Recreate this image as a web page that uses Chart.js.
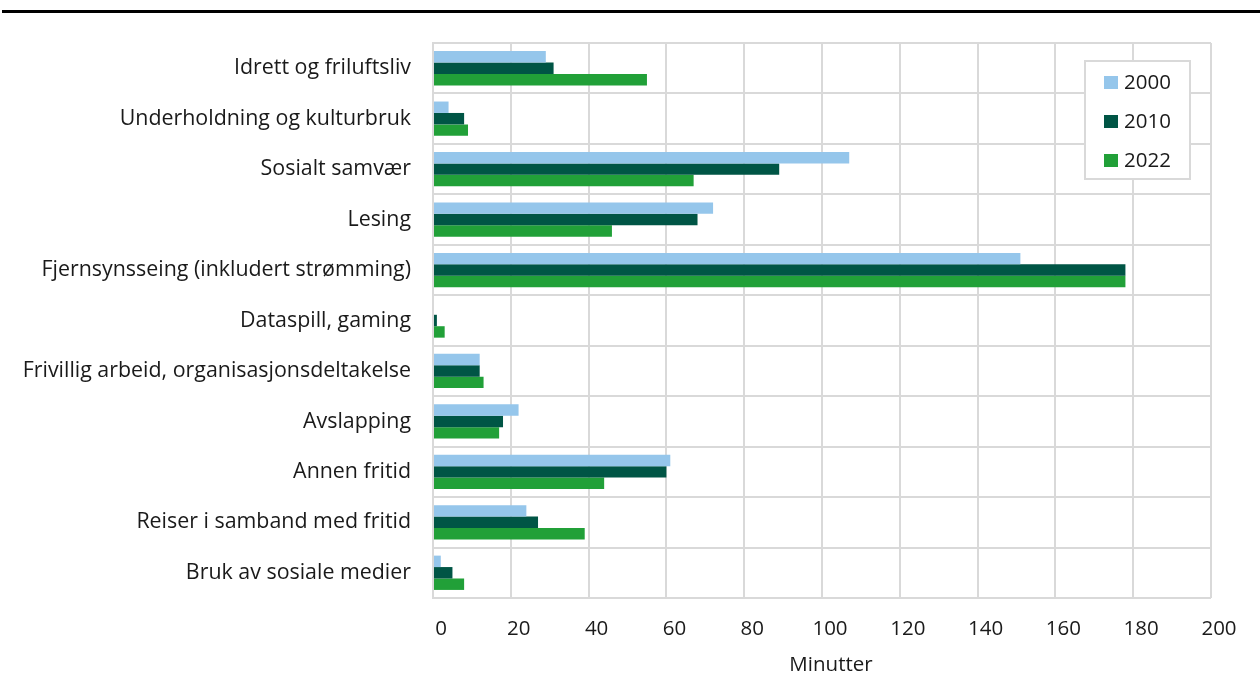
<!DOCTYPE html>
<html>
<head>
<meta charset="utf-8">
<script src="https://cdn.jsdelivr.net/npm/chart.js@4/dist/chart.umd.min.js"></script>
<style>
  html, body { margin: 0; padding: 0; background: #fff; }
  #wrap { position: relative; width: 1260px; height: 677px; }
  #topline { position: absolute; left: 2px; right: 0; top: 10px; height: 3px; background: #000; }
</style>
</head>
<body>
<div id="wrap">
  <div id="topline"></div>
  <canvas id="myChart" width="1260" height="677"></canvas>
</div>
<script>
var kategorier = [
  "Idrett og friluftsliv",
  "Underholdning og kulturbruk",
  "Sosialt samvær",
  "Lesing",
  "Fjernsynsseing (inkludert strømming)",
  "Dataspill, gaming",
  "Frivillig arbeid, organisasjonsdeltakelse",
  "Avslapping",
  "Annen fritid",
  "Reiser i samband med fritid",
  "Bruk av sosiale medier"
];
var aar = ["2000", "2010", "2022"];
var verdier2000 = [29, 4, 107, 72, 151, 0, 12, 22, 61, 24, 2];
var verdier2010 = [31, 8, 89, 68, 178, 1, 12, 18, 60, 27, 5];
var verdier2022 = [55, 9, 67, 46, 178, 3, 13, 17, 44, 39, 8];
var xTicks = [0, 20, 40, 60, 80, 100, 120, 140, 160, 180, 200];
var xTittel = "Minutter";
var farger = ["#95c6eb", "#005545", "#21a038"];

var fontFamily = "'Open Sans', 'Noto Sans', sans-serif";
var fontSize = 20.5;

// legend inside the plot (top right) + x title, Excel style
var ekstraTekst = {
  id: "ekstraTekst",
  afterDraw: function (chart) {
    var ctx = chart.ctx;
    var x = 1085, y = 61, w = 105, h = 118;
    ctx.save();
    ctx.fillStyle = "#fff";
    ctx.fillRect(x, y, w, h);
    ctx.strokeStyle = "#d9d9d9";
    ctx.lineWidth = 2;
    ctx.strokeRect(x, y, w, h);
    ctx.font = fontSize + "px " + fontFamily;
    ctx.textBaseline = "middle";
    chart.data.datasets.forEach(function (ds, i) {
      var cy = y + 21 + i * 39;
      ctx.fillStyle = ds.backgroundColor;
      ctx.fillRect(x + 19, cy - 6, 14, 13);
      ctx.fillStyle = "#1a1a1a";
      ctx.fillText(ds.label, x + 39, cy + 1);
    });

    var area = chart.chartArea;
    ctx.textAlign = "center";
    ctx.fillText(xTittel, (area.left + area.right) / 2 + 9, 665);
    ctx.restore();
  }
};

var ctx = document.getElementById("myChart").getContext("2d");
var myChart = new Chart(ctx, {
  type: "bar",
  data: {
    labels: kategorier,
    datasets: [
      { label: aar[0], data: verdier2000, backgroundColor: farger[0] },
      { label: aar[1], data: verdier2010, backgroundColor: farger[1] },
      { label: aar[2], data: verdier2022, backgroundColor: farger[2] }
    ]
  },
  options: {
    indexAxis: "y",
    responsive: false,
    animation: false,
    layout: { padding: { top: 43, right: 49, left: 0, bottom: 0 } },
    datasets: {
      bar: { categoryPercentage: 0.68, barPercentage: 1.0 }
    },
    plugins: {
      legend: { display: false },
      tooltip: { enabled: false }
    },
    scales: {
      x: {
        min: 0,
        max: 200,
        afterBuildTicks: function (scale) {
          scale.ticks = xTicks.map(function (v) { return { value: v }; });
        },
        afterFit: function (scale) { scale.height = 79; },
        grid: { color: "#d9d9d9", lineWidth: 2, drawTicks: false },
        border: { display: false },
        ticks: {
          color: "#1a1a1a",
          padding: 19,
          labelOffset: 8,
          font: { family: fontFamily, size: fontSize }
        }
      },
      y: {
        afterFit: function (scale) { scale.width = 433; },
        grid: { color: "#d9d9d9", lineWidth: 2, drawTicks: false, offset: true },
        border: { display: true, color: "#d9d9d9", width: 2 },
        ticks: {
          color: "#1a1a1a",
          padding: 22,
          font: { family: fontFamily, size: 21.4 }
        }
      }
    }
  },
  plugins: [ekstraTekst]
});
</script>
</body>
</html>
